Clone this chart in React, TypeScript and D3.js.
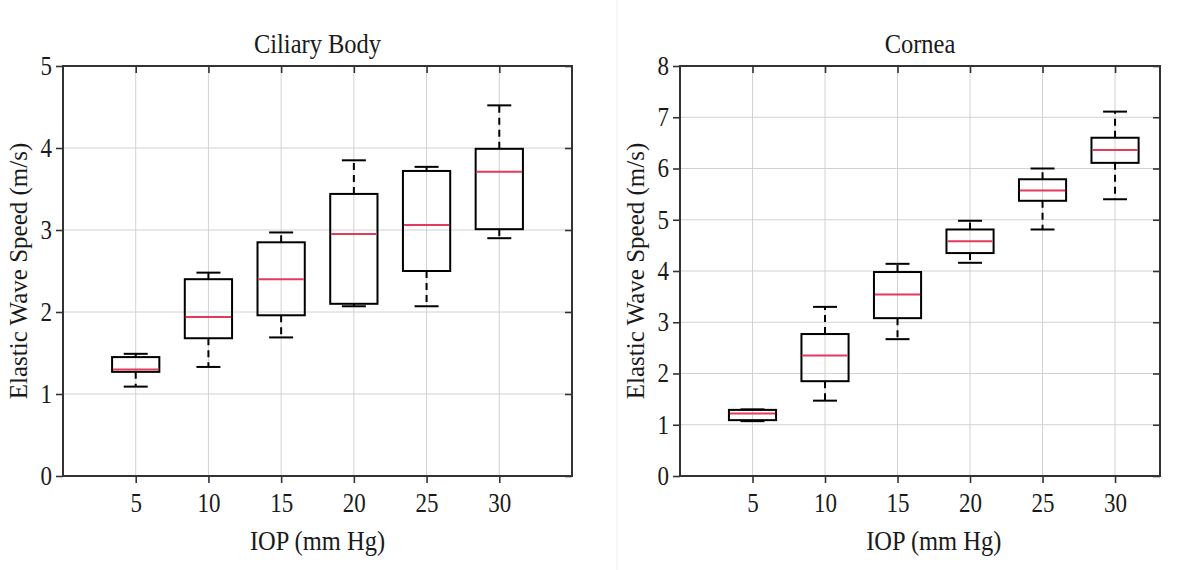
import React, { Component } from 'react';
import * as d3 from 'd3';

// x categories (IOP, mm Hg)
const iopLabels = ['5', '10', '15', '20', '25', '30'];
const boxPositions = [1, 2, 3, 4, 5, 6];

// Ciliary Body, elastic wave speed (m/s)
const ciliaryMin = [1.09, 1.33, 1.69, 2.07, 2.07, 2.90];
const ciliaryQ1 = [1.27, 1.68, 1.96, 2.10, 2.50, 3.01];
const ciliaryMedian = [1.30, 1.94, 2.40, 2.95, 3.06, 3.71];
const ciliaryQ3 = [1.45, 2.40, 2.85, 3.44, 3.72, 3.99];
const ciliaryMax = [1.49, 2.48, 2.97, 3.85, 3.77, 4.52];
const ciliaryYTicks = [0, 1, 2, 3, 4, 5];

// Cornea, elastic wave speed (m/s)
const corneaMin = [1.07, 1.47, 2.67, 4.16, 4.81, 5.40];
const corneaQ1 = [1.09, 1.85, 3.08, 4.35, 5.37, 6.11];
const corneaMedian = [1.22, 2.35, 3.54, 4.58, 5.57, 6.36];
const corneaQ3 = [1.29, 2.77, 3.98, 4.81, 5.79, 6.60];
const corneaMax = [1.30, 3.30, 4.14, 4.98, 6.00, 7.11];
const corneaYTicks = [0, 1, 2, 3, 4, 5, 6, 7, 8];

const FONT = '"Liberation Serif", "Times New Roman", serif';
// the source picture is a bit taller than wide, text included
const STRETCH = 1.15;

class BoxPanel extends Component<any> {
    el: SVGGElement | null = null;

    componentDidMount() {
        this.drawChart();
    }
    componentDidUpdate() {
        this.drawChart();
    }

    drawChart() {
        const { width, height, xMax, yTicks, mins, q1s, medians, q3s, maxs, title } = this.props;
        const g = d3.select(this.el);
        g.selectAll('*').remove();

        const x = d3.scaleLinear().domain([0, xMax]).range([0, width]);
        const y = d3.scaleLinear().domain([0, yTicks[yTicks.length - 1]]).range([height, 0]);
        const boxW = x(0.65) - x(0);
        const capW = x(0.33) - x(0);

        // grid
        g.append('g')
            .selectAll('line')
            .data(yTicks.slice(1, -1))
            .enter().append('line')
            .attr('x1', 0).attr('x2', width)
            .attr('y1', d => y(d)).attr('y2', d => y(d))
            .attr('stroke', '#d2d2d2').attr('stroke-width', 1);
        g.append('g')
            .selectAll('line')
            .data(boxPositions)
            .enter().append('line')
            .attr('x1', d => x(d)).attr('x2', d => x(d))
            .attr('y1', 0).attr('y2', height)
            .attr('stroke', '#d2d2d2').attr('stroke-width', 1);

        // axes
        const styleAxis = (sel, labels) => {
            sel.select('.domain').remove();
            sel.selectAll('line').attr('stroke', '#333').attr('stroke-width', 1.6);
            sel.selectAll('text')
                .attr('font-family', FONT)
                .attr('font-size', 23)
                .attr('fill', '#1a1a1a')
                .style('display', labels ? null : 'none')
                .each(function () {
                    const t = d3.select(this);
                    const tx = +t.attr('x') || 0, ty = +t.attr('y') || 0;
                    t.attr('x', 0).attr('y', 0)
                        .attr('transform', `translate(${tx},${ty}) scale(1,${STRETCH})`);
                });
        };
        g.append('g')
            .call(d3.axisLeft(y).tickValues(yTicks).tickSize(7).tickPadding(4).tickFormat(d3.format('d')))
            .call(s => styleAxis(s, true));
        g.append('g')
            .attr('transform', `translate(0,${height})`)
            .call(d3.axisBottom(x).tickValues(boxPositions).tickSize(7).tickPadding(10)
                .tickFormat((d, i) => iopLabels[i]))
            .call(s => styleAxis(s, true));
        g.append('g')
            .call(d3.axisTop(x).tickValues(boxPositions).tickSize(-7))
            .call(s => styleAxis(s, false));
        g.append('g')
            .attr('transform', `translate(${width},0)`)
            .call(d3.axisRight(y).tickValues(yTicks).tickSize(-7))
            .call(s => styleAxis(s, false));

        g.append('rect')
            .attr('x', 0).attr('y', 0)
            .attr('width', width).attr('height', height)
            .attr('fill', 'none')
            .attr('stroke', '#333').attr('stroke-width', 2);

        // boxes
        const boxes = g.append('g')
            .selectAll('g')
            .data(boxPositions)
            .enter().append('g');

        // whiskers
        boxes.append('line')
            .attr('x1', d => x(d)).attr('x2', d => x(d))
            .attr('y1', (d, i) => y(q3s[i])).attr('y2', (d, i) => y(maxs[i]))
            .attr('stroke', '#000').attr('stroke-width', 2).attr('stroke-dasharray', '7,5');
        boxes.append('line')
            .attr('x1', d => x(d)).attr('x2', d => x(d))
            .attr('y1', (d, i) => y(q1s[i])).attr('y2', (d, i) => y(mins[i]))
            .attr('stroke', '#000').attr('stroke-width', 2).attr('stroke-dasharray', '7,5');
        boxes.append('line')
            .attr('x1', d => x(d) - capW / 2).attr('x2', d => x(d) + capW / 2)
            .attr('y1', (d, i) => y(maxs[i])).attr('y2', (d, i) => y(maxs[i]))
            .attr('stroke', '#000').attr('stroke-width', 2);
        boxes.append('line')
            .attr('x1', d => x(d) - capW / 2).attr('x2', d => x(d) + capW / 2)
            .attr('y1', (d, i) => y(mins[i])).attr('y2', (d, i) => y(mins[i]))
            .attr('stroke', '#000').attr('stroke-width', 2);

        boxes.append('rect')
            .attr('x', d => x(d) - boxW / 2)
            .attr('y', (d, i) => y(q3s[i]))
            .attr('width', boxW)
            .attr('height', (d, i) => y(q1s[i]) - y(q3s[i]))
            .attr('fill', 'none')
            .attr('stroke', '#000').attr('stroke-width', 2);

        boxes.append('line')
            .attr('x1', d => x(d) - boxW / 2 + 1).attr('x2', d => x(d) + boxW / 2 - 1)
            .attr('y1', (d, i) => y(medians[i])).attr('y2', (d, i) => y(medians[i]))
            .attr('stroke', '#e43a5e').attr('stroke-width', 2);

        // labels
        g.append('text')
            .attr('transform', `translate(${width / 2},-13) scale(1,${STRETCH})`)
            .attr('text-anchor', 'middle')
            .attr('font-family', FONT).attr('font-size', 24.5).attr('fill', '#1a1a1a')
            .text(title);
        g.append('text')
            .attr('transform', `translate(${x(3.5)},${height + 74}) scale(1,${STRETCH})`)
            .attr('text-anchor', 'middle')
            .attr('font-family', FONT).attr('font-size', 24.5).attr('fill', '#1a1a1a')
            .text('IOP (mm Hg)');
        g.append('text')
            .attr('transform', `translate(-36,${height / 2}) rotate(-90)`)
            .attr('text-anchor', 'middle')
            .attr('font-family', FONT).attr('font-size', 25).attr('fill', '#1a1a1a')
            .text('Elastic Wave Speed (m/s)');
    }

    render() {
        const { left, top } = this.props;
        return <g transform={`translate(${left},${top})`} ref={el => { this.el = el; }}></g>;
    }
}

export default function App() {
    return (
        <svg width={1200} height={570} style={{ position: 'absolute', left: 0, top: 0, background: '#fff' }}>
            <rect x={0} y={0} width={1200} height={570} fill="#fff" />
            <line x1={617} x2={617} y1={0} y2={570} stroke="#efefef" strokeWidth={1} />
            <BoxPanel left={63} top={66} width={509} height={410} xMax={7}
                yTicks={ciliaryYTicks} title="Ciliary Body"
                mins={ciliaryMin} q1s={ciliaryQ1} medians={ciliaryMedian} q3s={ciliaryQ3} maxs={ciliaryMax} />
            <BoxPanel left={680} top={66} width={480} height={410} xMax={6.62}
                yTicks={corneaYTicks} title="Cornea"
                mins={corneaMin} q1s={corneaQ1} medians={corneaMedian} q3s={corneaQ3} maxs={corneaMax} />
        </svg>
    );
}
